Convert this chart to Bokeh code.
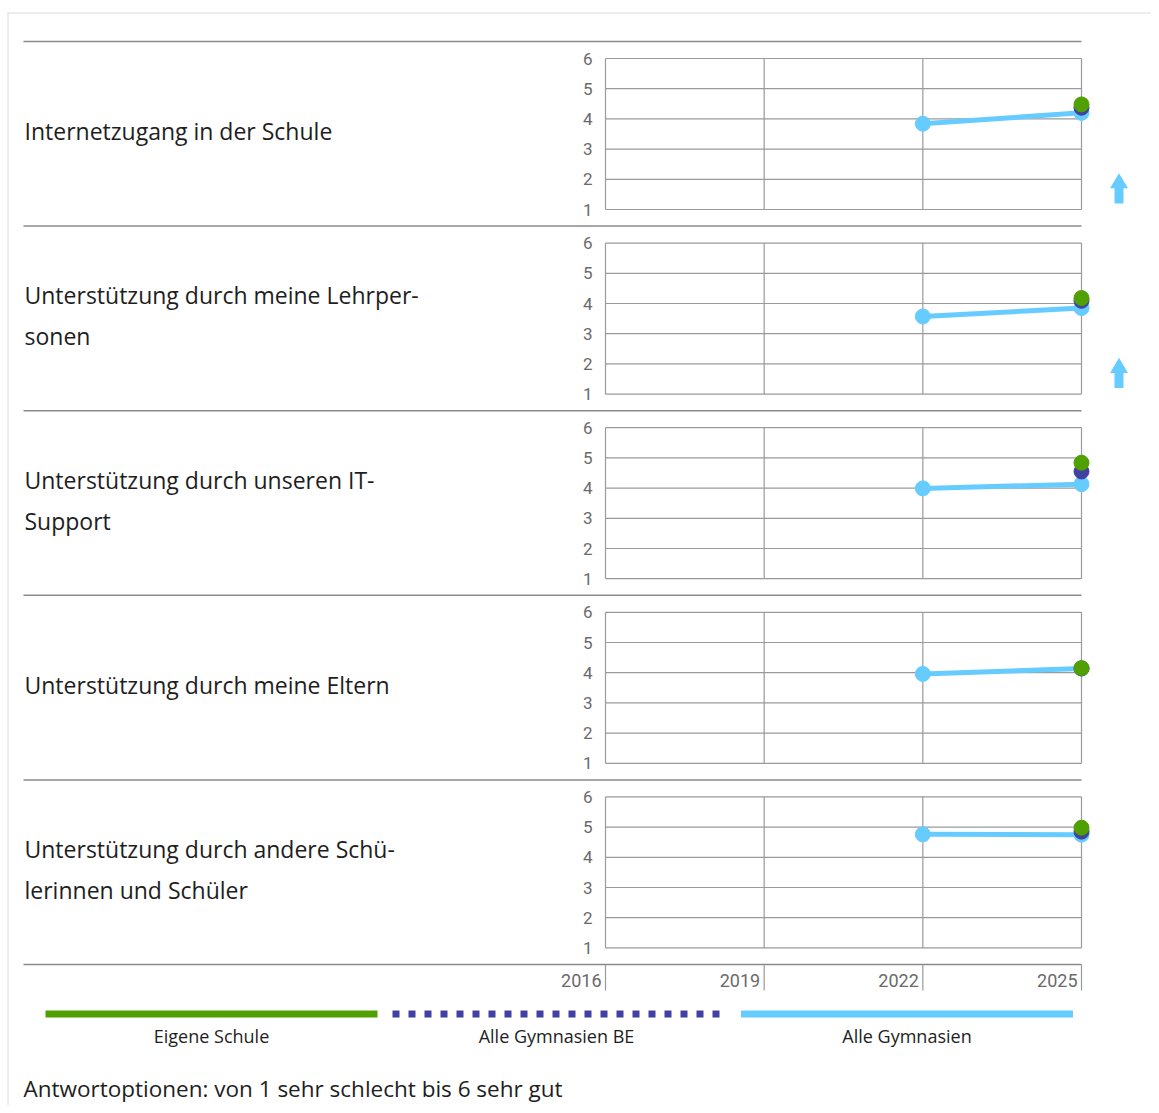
from bokeh.plotting import figure
from bokeh.models import Range1d, LinearAxis, FixedTicker
from bokeh.core.properties import value
from bokeh.embed import file_html
from bokeh.resources import INLINE

# ---------------- data ----------------
years = [2016, 2019, 2022, 2025]
scale_ticks = [1, 2, 3, 4, 5, 6]
survey_years = [2022, 2025]

row_labels = [
    ["Internetzugang in der Schule"],
    ["Unterstützung durch meine Lehrper-", "sonen"],
    ["Unterstützung durch unseren IT-", "Support"],
    ["Unterstützung durch meine Eltern"],
    ["Unterstützung durch andere Schü-", "lerinnen und Schüler"],
]

alle_gymnasien_2022 = [3.84, 3.57, 3.99, 3.96, 4.76]
alle_gymnasien_2025 = [4.20, 3.85, 4.13, 4.14, 4.75]
alle_gymnasien_be_2025 = [4.37, 4.09, 4.55, 4.14, 4.85]
eigene_schule_2025 = [4.48, 4.18, 4.84, 4.15, 4.98]
trend_up = [True, True, False, False, False]

legend_labels = ["Eigene Schule", "Alle Gymnasien BE", "Alle Gymnasien"]
footer_text = "Antwortoptionen: von 1 sehr schlecht bis 6 sehr gut"

# ---------------- style ----------------
GREEN = "#4fa000"
DARKBLUE = "#4141a1"
LIGHTBLUE = "#66ccff"
GRID = "#9a9a9a"
SEP = "#8a8a8a"
TEXT = "#1e1e1e"
TICK_TEXT = "#6a6a6a"
FONT = "Open Sans"
NUM_FONT = "Roboto"

# ---------------- layout (page pixels) ----------------
W, H = 1151, 1105
X0, Y0 = 0, 0
PANEL_L, PANEL_R = 605, 1081
SEP0, ROW_H, PAD, PANEL_H = 41, 184.6, 17, 151
LABEL_X = 24

px_per_year = (PANEL_R - PANEL_L) / (years[-1] - years[0])
x_start = years[0] - (PANEL_L - X0) / px_per_year
x_end = years[-1] + (X0 + W - PANEL_R) / px_per_year

p = figure(width=W, height=H, output_backend="svg", toolbar_location=None,
           x_range=Range1d(x_start, x_end), y_range=Range1d(Y0 + H, Y0),
           x_axis_type=None, y_axis_type=None, outline_line_color=None,
           min_border_left=0, min_border_right=0, min_border_top=0,
           min_border_bottom=0, background_fill_color="white",
           border_fill_color="white")

n_rows = len(row_labels)
upp = PANEL_H / (scale_ticks[-1] - scale_ticks[0])
extra = {}
for k in range(n_rows):
    top = SEP0 + k * ROW_H + PAD
    extra[f"r{k}"] = Range1d(scale_ticks[-1] - (Y0 + H - top) / upp,
                             scale_ticks[-1] + (top - Y0) / upp)
p.extra_y_ranges = extra
p.extra_x_ranges = {"px": Range1d(X0, X0 + W)}

# card border (left and top)
p.segment(x0=[7.5, 7], x1=[7.5, X0 + W], y0=[12, 12.5], y1=[Y0 + H, 12.5],
          x_range_name="px", line_color="#dcdcdc", line_width=1)

# separators
seps = [SEP0 + k * ROW_H for k in range(n_rows + 1)]
p.segment(x0=[LABEL_X - 1] * len(seps), x1=[PANEL_R] * len(seps), y0=seps, y1=seps,
          x_range_name="px", line_color=SEP, line_width=1.5)

for k in range(n_rows):
    rn = f"r{k}"
    # grid
    p.segment(x0=years, x1=years, y0=[scale_ticks[0]] * len(years),
              y1=[scale_ticks[-1]] * len(years), y_range_name=rn,
              line_color=GRID, line_width=1.2)
    p.segment(x0=[years[0]] * len(scale_ticks), x1=[years[-1]] * len(scale_ticks),
              y0=scale_ticks, y1=scale_ticks, y_range_name=rn,
              line_color=GRID, line_width=1.2)
    ax = LinearAxis(y_range_name=rn, fixed_location=years[0],
                    ticker=FixedTicker(ticks=scale_ticks),
                    axis_line_color=None, major_tick_line_color=None,
                    minor_tick_line_color=None, major_label_standoff=7,
                    major_label_text_font=NUM_FONT, major_label_text_font_size="17px",
                    major_label_text_color=TICK_TEXT)
    p.add_layout(ax, "left")

    # series
    ag = [alle_gymnasien_2022[k], alle_gymnasien_2025[k]]
    p.line(x=survey_years, y=ag, y_range_name=rn, line_color=LIGHTBLUE, line_width=5)
    p.scatter(x=survey_years, y=ag, y_range_name=rn, size=15, color=LIGHTBLUE)
    p.scatter(x=[survey_years[-1]], y=[alle_gymnasien_be_2025[k]], y_range_name=rn,
              size=15, color=DARKBLUE)
    p.scatter(x=[survey_years[-1]], y=[eigene_schule_2025[k]], y_range_name=rn,
              size=15, color=GREEN)

    # trend arrow
    if trend_up[k]:
        cx = 1118.5
        xs = [cx, cx + 9, cx + 4.5, cx + 4.5, cx - 4.5, cx - 4.5, cx - 9]
        ys = [2.2, 1.7, 1.7, 1.2, 1.2, 1.7, 1.7]
        p.patch(x=xs, y=ys, x_range_name="px", y_range_name=rn,
                fill_color=LIGHTBLUE, line_color=None)

    # row label
    center = SEP0 + (k + 0.5) * ROW_H - 3
    lines = row_labels[k]
    lh = 41
    ys = [center + (i - (len(lines) - 1) / 2) * lh for i in range(len(lines))]
    p.text(x=[LABEL_X] * len(lines), y=ys, text=lines, x_range_name="px",
           text_font=value(FONT), text_font_size="23px", text_color=TEXT,
           text_baseline="middle", text_align="left")

# x axis (years) below last separator
bottom_sep = seps[-1]
p.segment(x0=years, x1=years, y0=[bottom_sep] * len(years), y1=[bottom_sep + 26] * len(years),
          line_color=GRID, line_width=1.2)
p.text(x=years, y=[bottom_sep + 16] * len(years), text=[str(y) for y in years],
       x_offset=-4, text_font=value(NUM_FONT), text_font_size="18px",
       text_color=TICK_TEXT, text_align="right", text_baseline="middle")

# legend
leg_centers = [211, 556, 906.5]
half = 166
leg_y = 1013.5
p.segment(x0=[leg_centers[0] - half], x1=[leg_centers[0] + half], y0=[leg_y], y1=[leg_y],
          x_range_name="px", line_color=GREEN, line_width=7)
p.segment(x0=[leg_centers[1] - half + 2], x1=[leg_centers[1] + half], y0=[leg_y], y1=[leg_y],
          x_range_name="px", line_color=DARKBLUE, line_width=7, line_dash="7 9",
          line_cap="butt")
p.segment(x0=[leg_centers[2] - half], x1=[leg_centers[2] + half], y0=[leg_y], y1=[leg_y],
          x_range_name="px", line_color=LIGHTBLUE, line_width=7)
p.text(x=leg_centers, y=[1035] * 3, text=legend_labels, x_range_name="px",
       text_font=value(FONT), text_font_size="18px", text_color=TEXT,
       text_align="center", text_baseline="middle")

# footer
p.text(x=[23], y=[1088], text=[footer_text], x_range_name="px",
       text_font=value(FONT), text_font_size="22.5px", text_color=TEXT,
       text_align="left", text_baseline="middle")

open("out.html", "w").write(file_html(p, INLINE))
